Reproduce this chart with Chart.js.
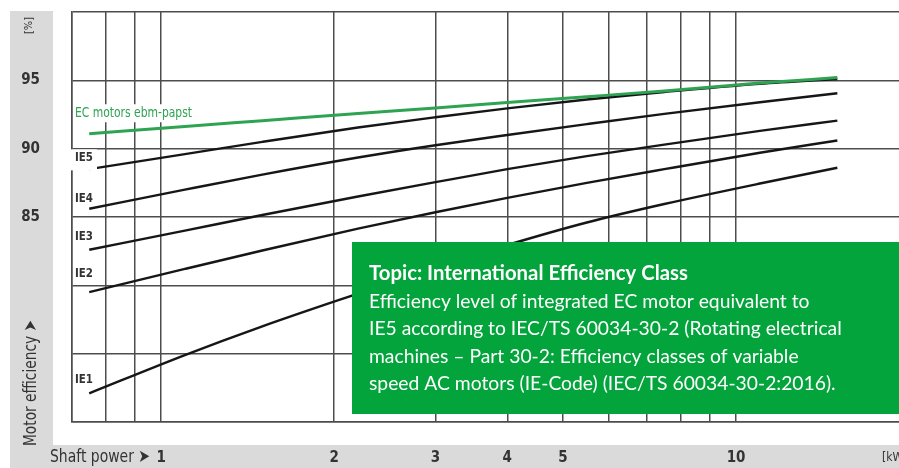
<!DOCTYPE html>
<html><head><meta charset="utf-8">
<script src="https://cdn.jsdelivr.net/npm/chart.js@4.4.1/dist/chart.umd.min.js"></script>
<style>html,body{margin:0;padding:0;background:#fff;overflow:hidden}</style>
</head><body>
<canvas id="c" width="899" height="468"></canvas>
<script>
// ---- data ----
const powerKW   = [0.75, 1.1, 1.5, 2.2, 3, 4, 5.5, 7.5, 11, 15];
const ecMotors  = [91.1, 91.63, 92.05, 92.57, 92.98, 93.38, 93.8, 94.22, 94.8, 95.2];
const ie5       = [88.5, 89.6, 90.5, 91.55, 92.3, 92.95, 93.6, 94.15, 94.75, 95.1];
const ie4       = [85.6, 87.0, 88.1, 89.35, 90.25, 91.0, 91.8, 92.55, 93.4, 94.05];
const ie3       = [82.6, 84.0, 85.15, 86.5, 87.55, 88.5, 89.45, 90.3, 91.3, 92.05];
const ie2       = [79.5, 81.2, 82.55, 84.15, 85.35, 86.4, 87.5, 88.5, 89.7, 90.6];
const ie1       = [72.1, 74.9, 77.0, 79.4, 81.3, 82.95, 84.6, 85.95, 87.45, 88.6];
const seriesNames = ['EC motors ebm-papst', 'IE5', 'IE4', 'IE3', 'IE2', 'IE1'];
const xGridValues = [0.7, 0.8, 0.9, 1, 2, 3, 4, 5, 6, 7, 8, 9, 10];
const xTickLabels = ['1', '2', '3', '4', '5', '10'];
const yGridValues = [70, 75, 80, 85, 90, 95, 100];
const yTickLabels = ['85', '90', '95'];
const xTitle = 'Shaft power \u27A4';
const yTitle = 'Motor efficiency \u27A4';
const yUnit = '[%]';
const xUnit = '[kW]';
const boxTitle = 'Topic: International Efficiency Class';
const boxLines = [
  'Efficiency level of integrated EC motor equivalent to',
  'IE5 according to IEC/TS 60034-30-2 (Rotating electrical',
  'machines \u2013 Part 30-2: Efficiency classes of variable',
  'speed AC motors (IE-Code) (IEC/TS 60034-30-2:2016).'
];

const NARROW = "'Liberation Sans Narrow','DejaVu Sans Condensed','Arial Narrow','Liberation Sans',sans-serif";
const GREEN = '#2ea352';
const BOXGREEN = '#03a43b';
const GRID = '#4d4d4d';
const TXT = '#333333';

const pts = arr => powerKW.map((p, i) => ({x: p, y: arr[i]}));

const bgPlugin = {
  id: 'bg',
  beforeDraw(chart) {
    const ctx = chart.ctx;
    ctx.save();
    ctx.fillStyle = '#fff';
    ctx.fillRect(0, 0, chart.width, chart.height);
    ctx.fillStyle = '#dadada';
    ctx.fillRect(10, 11, 43, chart.height - 11);
    ctx.fillRect(10, 445, chart.width - 10, chart.height - 445);
    ctx.restore();
  }
};

const annPlugin = {
  id: 'ann',
  afterDatasetsDraw(chart) {
    const ctx = chart.ctx;
    const ys = chart.scales.y;
    const L = chart.chartArea.left;
    ctx.save();
    // EC label with white background
    ctx.fillStyle = '#fff';
    ctx.fillRect(L + 1, ys.getPixelForValue(93.25), 123, 18);
    ctx.font = "14px " + NARROW;
    ctx.textBaseline = 'middle';
    ctx.textAlign = 'left';
    ctx.fillStyle = GREEN;
    ctx.fillText(seriesNames[0], L + 3, ys.getPixelForValue(92.6), 117);
    // IE labels
    const labelVals = [89.31, 86.38, 83.53, 80.89, 73.13];
    ctx.fillStyle = '#fff';
    ctx.fillRect(L - 2, ys.getPixelForValue(89.95), 27, 21);
    ctx.font = "bold 13px " + NARROW;
    ctx.fillStyle = TXT;
    for (let i = 0; i < 5; i++) {
      ctx.fillText(seriesNames[i + 1], L + 3, ys.getPixelForValue(labelVals[i]), 18);
    }
    // green info box
    ctx.fillStyle = BOXGREEN;
    ctx.fillRect(352, 242, chart.width - 352, 172);
    ctx.fillStyle = '#fff';
    ctx.textBaseline = 'middle';
    ctx.font = "100px Lato";
    const wRef = ctx.measureText(boxLines[1]).width;
    const fs = 100 * 473 / wRef;
    ctx.font = "bold 100px Lato";
    const wTit = ctx.measureText(boxTitle).width;
    const fsT = 100 * 319 / wTit;
    ctx.font = "bold " + fsT.toFixed(2) + "px Lato";
    ctx.fillText(boxTitle, 369, 273);
    ctx.font = fs.toFixed(2) + "px Lato";
    boxLines.forEach((t, i) => ctx.fillText(t, 369, 301.5 + i * 27.4));
    ctx.restore();

    // axis titles
    ctx.save();
    ctx.fillStyle = TXT;
    ctx.font = "18px " + NARROW;
    ctx.textBaseline = 'middle';
    ctx.textAlign = 'left';
    ctx.fillText(xTitle, 50, 457, 100);
    ctx.font = "12px " + NARROW;
    ctx.fillText(xUnit, 882, 458);
    ctx.translate(31, 446);
    ctx.rotate(-Math.PI / 2);
    ctx.font = "18px " + NARROW;
    ctx.fillText(yTitle, 0, 0, 126);
    ctx.restore();
    ctx.save();
    ctx.fillStyle = TXT;
    ctx.translate(29, 34);
    ctx.rotate(-Math.PI / 2);
    ctx.font = "11px " + NARROW;
    ctx.textBaseline = 'middle';
    ctx.fillText(yUnit, 0, 0);
    ctx.restore();
  }
};

const lineDs = (label, arr, color, width, order) => ({
  label, data: pts(arr), borderColor: color, borderWidth: width,
  pointRadius: 0, fill: false, cubicInterpolationMode: 'monotone', order
});

new Chart(document.getElementById('c'), {
  type: 'line',
  data: {
    datasets: [
      lineDs(seriesNames[0], ecMotors, GREEN, 3, 0),
      lineDs(seriesNames[1], ie5, '#161616', 2.4, 1),
      lineDs(seriesNames[2], ie4, '#161616', 2.4, 2),
      lineDs(seriesNames[3], ie3, '#161616', 2.4, 3),
      lineDs(seriesNames[4], ie2, '#161616', 2.4, 4),
      lineDs(seriesNames[5], ie1, '#161616', 2.4, 5)
    ]
  },
  options: {
    responsive: false,
    animation: false,
    devicePixelRatio: 1,
    layout: {padding: {top: 12, right: 0, bottom: 0, left: 0}},
    plugins: {legend: {display: false}, tooltip: {enabled: false}},
    scales: {
      x: {
        type: 'logarithmic', min: 0.7, max: 19.2, position: 'bottom',
        afterBuildTicks(scale) { scale.ticks = xGridValues.map(v => ({value: v})); },
        afterFit(scale) { scale.height = 46; scale.paddingLeft = 0; scale.paddingRight = 0; },
        ticks: {
          autoSkip: false, maxRotation: 0, minRotation: 0, padding: 27,
          color: TXT, font: {family: NARROW, size: 15, weight: 'bold'},
          callback: v => xTickLabels.includes(String(v)) ? String(v) : ''
        },
        grid: {color: GRID, lineWidth: 1.5, drawTicks: false},
        border: {color: GRID, width: 1.5}
      },
      y: {
        type: 'linear', min: 70, max: 100,
        afterBuildTicks(scale) { scale.ticks = yGridValues.map(v => ({value: v})); },
        afterFit(scale) { scale.width = 72; scale.paddingTop = 0; scale.paddingBottom = 0; },
        ticks: {
          padding: 32, color: TXT, font: {family: NARROW, size: 15, weight: 'bold'},
          callback: v => yTickLabels.includes(String(v)) ? String(v) : ''
        },
        grid: {color: GRID, lineWidth: 1.5, drawTicks: false},
        border: {color: GRID, width: 1.5}
      }
    }
  },
  plugins: [bgPlugin, annPlugin]
});
</script>
</body></html>
